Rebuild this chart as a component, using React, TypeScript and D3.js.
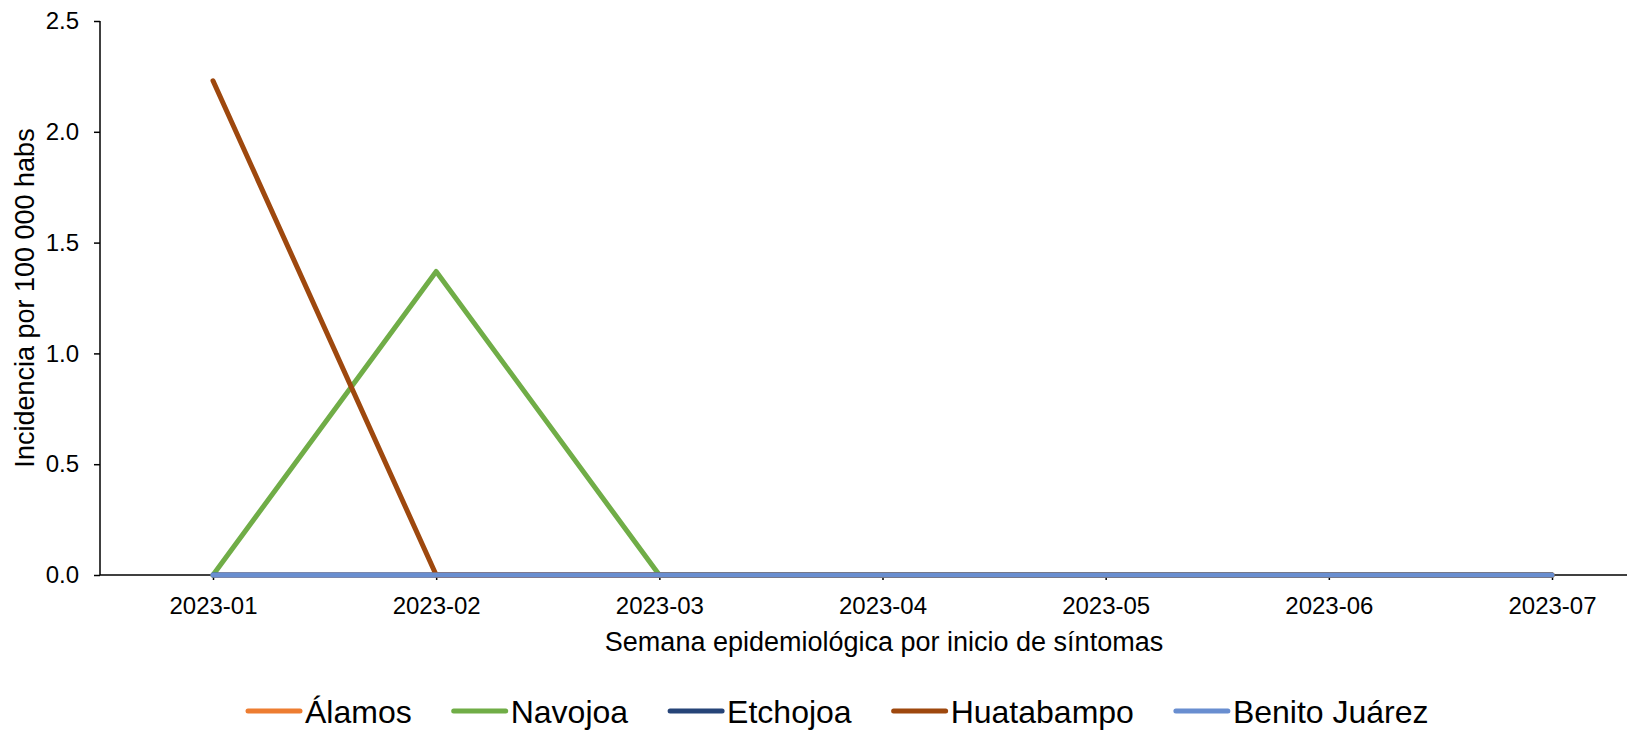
import { useEffect, useRef } from "react";
import * as d3 from "d3";

const categories = ["2023-01", "2023-02", "2023-03", "2023-04", "2023-05", "2023-06", "2023-07"];
const yTicks = [0, 0.5, 1.0, 1.5, 2.0, 2.5];

const alamos = [0, 0, 0, 0, 0, 0, 0];
const navojoa = [0, 1.37, 0, 0, 0, 0, 0];
const etchojoa = [0, 0, 0, 0, 0, 0, 0];
const huatabampo = [2.23, 0, 0, 0, 0, 0, 0];
const benitoJuarez = [0, 0, 0, 0, 0, 0, 0];

const seriesNames = ["Álamos", "Navojoa", "Etchojoa", "Huatabampo", "Benito Juárez"];
const seriesValues = [alamos, navojoa, etchojoa, huatabampo, benitoJuarez];
const seriesColors = ["#ED7D31", "#70AD47", "#264478", "#9E480E", "#698ED0"];

const W = 1630;
const H = 723;
const FONT = "'Liberation Sans', Arial, sans-serif";

const App = () => {
  const ref = useRef<HTMLDivElement>(null);

  useEffect(() => {
    const svg = d3
      .select(ref.current)
      .html("")
      .append("svg")
      .attr("width", W)
      .attr("height", H)
      .style("display", "block")
      .style("font-family", FONT);

    const left = 92;
    const axisEnd = 1619;
    const top = 13;
    const bottom = 567;

    // point positions for the weeks
    const x = d3.scalePoint<string>().domain(categories).range([205, 1544]);
    const y = d3.scaleLinear().domain([0, 2.5]).range([bottom, top]);

    // Y axis
    const yAxis = svg.append("g").attr("transform", `translate(${left},0)`);
    yAxis
      .call(d3.axisLeft(y).tickValues(yTicks).tickSize(6).tickPadding(15).tickFormat(d3.format(".1f")))
      .call((g) => g.select(".domain").remove());
    yAxis.append("line").attr("x1", 0).attr("x2", 0).attr("y1", top).attr("y2", bottom).attr("stroke", "#000").attr("stroke-width", 1.5);
    yAxis.selectAll(".tick line").attr("stroke", "#000").attr("stroke-width", 1.5);
    yAxis.selectAll(".tick text").attr("font-size", 24).attr("font-family", FONT).attr("fill", "#000");

    // X axis
    const xAxis = svg.append("g").attr("transform", `translate(0,${bottom})`);
    xAxis
      .call(d3.axisBottom(x).tickSize(5).tickPadding(17))
      .call((g) => g.select(".domain").remove());
    xAxis.append("line").attr("x1", left).attr("x2", axisEnd).attr("y1", 0).attr("y2", 0).attr("stroke", "#000").attr("stroke-width", 1.5);
    xAxis.selectAll(".tick line").attr("stroke", "#000").attr("stroke-width", 1.5);
    xAxis.selectAll(".tick text").attr("font-size", 24).attr("font-family", FONT).attr("fill", "#000");

    // Axis titles
    svg
      .append("text")
      .attr("x", 876)
      .attr("y", 643)
      .attr("text-anchor", "middle")
      .attr("font-size", 27)
      .text("Semana epidemiológica por inicio de síntomas");

    svg
      .append("text")
      .attr("transform", `translate(26,${(top + bottom) / 2}) rotate(-90)`)
      .attr("text-anchor", "middle")
      .attr("font-size", 27)
      .text("Incidencia por 100 000 habs");

    // Lines
    const line = d3
      .line<number>()
      .x((_, i) => x(categories[i])!)
      .y((d) => y(d));

    seriesValues.forEach((vals, i) => {
      svg
        .append("path")
        .datum(vals)
        .attr("d", line)
        .attr("fill", "none")
        .attr("stroke", seriesColors[i])
        .attr("stroke-width", 5)
        .attr("stroke-linecap", "round")
        .attr("stroke-linejoin", "round");
    });

    // Legend
    const legendY = 703;
    const swatch = 52;
    const gapText = 5;
    const gapItem = 42;
    const legend = svg.append("g");
    const items = seriesNames.map((name, i) => {
      const g = legend.append("g");
      g.append("line")
        .attr("x1", 0)
        .attr("x2", swatch)
        .attr("y1", 0)
        .attr("y2", 0)
        .attr("stroke", seriesColors[i])
        .attr("stroke-width", 5)
        .attr("stroke-linecap", "round");
      const t = g
        .append("text")
        .attr("x", swatch + gapText)
        .attr("y", 0)
        .attr("dy", "0.36em")
        .attr("font-size", 32)
        .text(name);
      const w = (t.node() as SVGTextElement).getComputedTextLength();
      return { g, width: swatch + gapText + w };
    });
    let lx = 240;
    items.forEach((it) => {
      it.g.attr("transform", `translate(${lx},${legendY})`);
      lx += it.width + gapItem;
    });
  }, []);

  return <div ref={ref}></div>;
};

export default App;
